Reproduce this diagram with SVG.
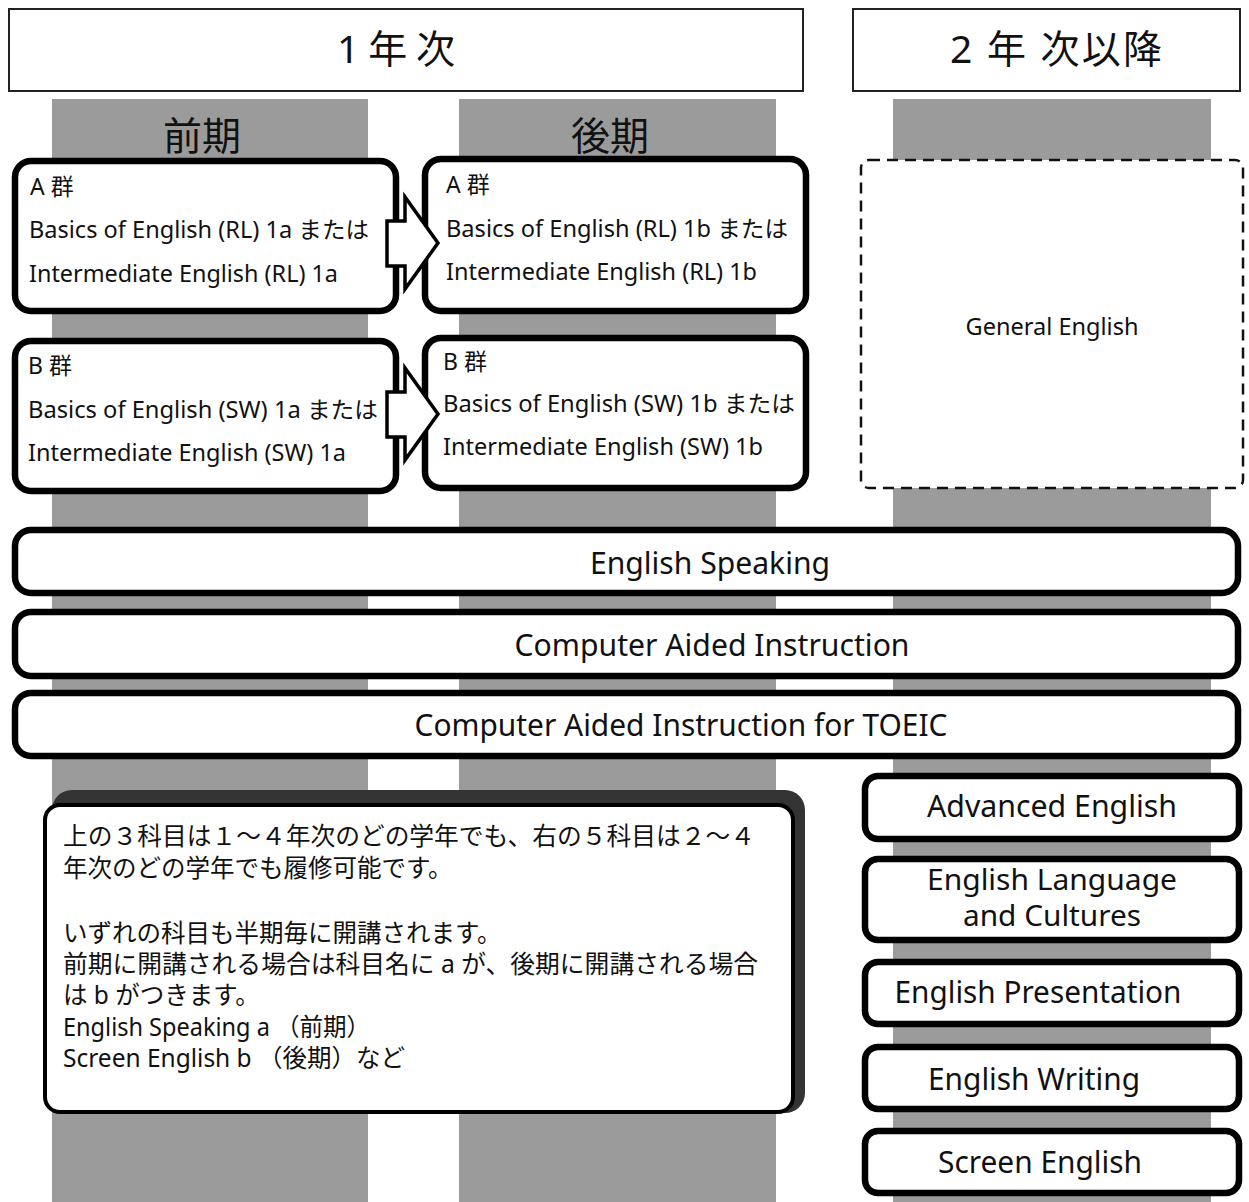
<svg xmlns="http://www.w3.org/2000/svg" width="1249" height="1202" viewBox="0 0 1249 1202">
<style>
text{font-family:"Noto Sans","Noto Sans CJK JP",sans-serif;fill:#111}
.col{fill:#9b9b9b}
.hdr{fill:#fff;stroke:#222;stroke-width:2}
.box{fill:#fff;stroke:#000;stroke-width:6.5}
.dash{fill:#fff;stroke:#111;stroke-width:2.5;stroke-dasharray:11 7}
.arr{fill:#fff;stroke:#000;stroke-width:3.5;stroke-linejoin:miter}
.t23{font-size:23px}
.t30{font-size:30px}
.t31{font-size:31px}
.t29{font-size:29px}
.n{font-size:24.5px}
.h{font-size:39px}
</style>
<rect width="1249" height="1202" fill="#fff"/>
<g id="columns">
<rect class="col" x="52" y="99" width="316" height="1103"/>
<rect class="col" x="459" y="99" width="317" height="1103"/>
<rect class="col" x="893" y="99" width="318" height="1103"/>
</g>
<g id="year1">
<rect class="hdr" x="9" y="9" width="794" height="82"/>
<text class="h" x="337" y="63" textLength="118" lengthAdjust="spacing">1 年 次</text>
</g>
<g id="year2">
<rect class="hdr" x="853" y="9" width="387" height="82"/>
<text class="h" x="950" y="63" textLength="212" lengthAdjust="spacing">2 年 次以降</text>
</g>
<g id="label-zenki"><text class="h" x="202" y="150" text-anchor="middle">前期</text></g>
<g id="label-kouki"><text class="h" x="610" y="150" text-anchor="middle">後期</text></g>
<g id="a-1a">
<rect class="box" x="15" y="161" width="381" height="150" rx="16"/>
<text class="t23" x="30" y="195">A 群</text>
<text class="t23" x="29" y="238" textLength="340" lengthAdjust="spacingAndGlyphs">Basics of English (RL) 1a または</text>
<text class="t23" x="29" y="282" textLength="309" lengthAdjust="spacingAndGlyphs">Intermediate English (RL) 1a</text>
</g>
<g id="a-1b">
<rect class="box" x="425" y="159" width="381" height="152" rx="16"/>
<text class="t23" x="446" y="193">A 群</text>
<text class="t23" x="446" y="237" textLength="342" lengthAdjust="spacingAndGlyphs">Basics of English (RL) 1b または</text>
<text class="t23" x="446" y="280" textLength="311" lengthAdjust="spacingAndGlyphs">Intermediate English (RL) 1b</text>
</g>
<g id="b-1a">
<rect class="box" x="15" y="341" width="381" height="150" rx="16"/>
<text class="t23" x="28" y="374">B 群</text>
<text class="t23" x="28" y="418" textLength="350" lengthAdjust="spacingAndGlyphs">Basics of English (SW) 1a または</text>
<text class="t23" x="28" y="461" textLength="318" lengthAdjust="spacingAndGlyphs">Intermediate English (SW) 1a</text>
</g>
<g id="b-1b">
<rect class="box" x="425" y="338" width="381" height="150" rx="16"/>
<text class="t23" x="443" y="370">B 群</text>
<text class="t23" x="443" y="412" textLength="352" lengthAdjust="spacingAndGlyphs">Basics of English (SW) 1b または</text>
<text class="t23" x="443" y="455" textLength="320" lengthAdjust="spacingAndGlyphs">Intermediate English (SW) 1b</text>
</g>
<g id="general-english">
<rect class="dash" x="861" y="160" width="382" height="328" rx="8"/>
<text class="t23" x="1052" y="335" text-anchor="middle" textLength="173" lengthAdjust="spacingAndGlyphs">General English</text>
</g>
<g id="english-speaking">
<rect class="box" x="15" y="530" width="1223" height="63" rx="16"/>
<text class="t30" x="710" y="574" text-anchor="middle" textLength="240" lengthAdjust="spacingAndGlyphs">English Speaking</text>
</g>
<g id="cai">
<rect class="box" x="15" y="612" width="1223" height="64" rx="16"/>
<text class="t30" x="712" y="656" text-anchor="middle" textLength="395" lengthAdjust="spacingAndGlyphs">Computer Aided Instruction</text>
</g>
<g id="cai-toeic">
<rect class="box" x="15" y="693" width="1223" height="63" rx="16"/>
<text class="t30" x="681" y="736" text-anchor="middle" textLength="533" lengthAdjust="spacingAndGlyphs">Computer Aided Instruction for TOEIC</text>
</g>
<g id="note">
<rect x="52" y="790" width="753" height="323" rx="20" fill="#333"/>
<rect x="45" y="805" width="748" height="307" rx="15" fill="#fff" stroke="#000" stroke-width="4"/>
<text class="n" x="63" y="845" textLength="692" lengthAdjust="spacingAndGlyphs">上の３科目は１～４年次のどの学年でも、右の５科目は２～４</text>
<text class="n" x="63" y="877">年次のどの学年でも履修可能です。</text>
<text class="n" x="63" y="942">いずれの科目も半期毎に開講されます。</text>
<text class="n" x="63" y="973" textLength="695" lengthAdjust="spacingAndGlyphs">前期に開講される場合は科目名に a が、後期に開講される場合</text>
<text class="n" x="63" y="1004">は b がつきます。</text>
<text class="n" x="63" y="1036" textLength="307" lengthAdjust="spacingAndGlyphs">English Speaking a （前期）</text>
<text class="n" x="63" y="1067" textLength="342" lengthAdjust="spacingAndGlyphs">Screen English b （後期）など</text>
</g>
<g id="advanced-english">
<rect class="box" x="865" y="776" width="374" height="63" rx="13"/>
<text class="t31" x="1052" y="817" text-anchor="middle" textLength="250" lengthAdjust="spacingAndGlyphs">Advanced English</text>
</g>
<g id="english-language-cultures">
<rect class="box" x="865" y="859" width="374" height="81" rx="13"/>
<text class="t29" x="1052" y="890" text-anchor="middle" textLength="250" lengthAdjust="spacingAndGlyphs">English Language</text>
<text class="t29" x="1052" y="926" text-anchor="middle" textLength="178" lengthAdjust="spacingAndGlyphs">and Cultures</text>
</g>
<g id="english-presentation">
<rect class="box" x="865" y="962" width="374" height="62" rx="13"/>
<text class="t31" x="1038" y="1003" text-anchor="middle" textLength="287" lengthAdjust="spacingAndGlyphs">English Presentation</text>
</g>
<g id="english-writing">
<rect class="box" x="865" y="1047" width="374" height="62" rx="13"/>
<text class="t31" x="1034" y="1090" text-anchor="middle" textLength="212" lengthAdjust="spacingAndGlyphs">English Writing</text>
</g>
<g id="screen-english">
<rect class="box" x="865" y="1131" width="374" height="62" rx="13"/>
<text class="t31" x="1040" y="1173" text-anchor="middle" textLength="204" lengthAdjust="spacingAndGlyphs">Screen English</text>
</g>
<g id="connectors">
<polygon class="arr" points="387,221 405,221 405,197 438,243 405,289 405,266 387,266"/>
<polygon class="arr" points="387,392 405,392 405,368 438,414 405,460 405,437 387,437"/>
</g>
</svg>
